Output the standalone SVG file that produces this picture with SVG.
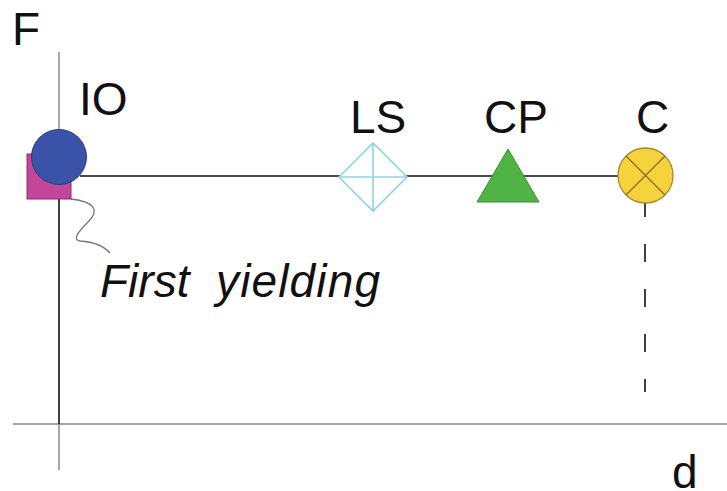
<svg xmlns="http://www.w3.org/2000/svg" width="727" height="491" viewBox="0 0 727 491">
<style>
text{font-family:"Liberation Sans",Arial,sans-serif;fill:#111;font-size:46px}
.ax{stroke:#8a8a8a;stroke-width:1.5;fill:none}
.ln{stroke:#111;stroke-width:1.6;fill:none}
</style>
<rect width="727" height="491" fill="#fff"/>
<g id="connectors">
<line class="ax" x1="13" y1="424" x2="727" y2="424"/>
<line class="ax" x1="59" y1="52" x2="59" y2="135"/>
<line class="ln" x1="59" y1="199" x2="59" y2="424" stroke-width="2.2"/>
<line class="ax" x1="59" y1="424" x2="59" y2="470"/>
<line class="ln" x1="80" y1="176" x2="620" y2="176"/>
<line class="ln" x1="645" y1="199" x2="645" y2="392" stroke-dasharray="18 27"/>
<path d="M71,199 C95,202 100,210 88,222 C78,232 72,240 80,241 C95,242 104,246 110,253" stroke="#777" stroke-width="1.3" fill="none"/>
</g>
<text x="672" y="488">d</text>
<text x="12" y="45">F</text>
<g id="IO">
<rect x="27" y="154" width="44" height="45" fill="#C2479B" stroke="#8a2f70" stroke-width="1"/>
<circle cx="59" cy="157" r="27.5" fill="#3A53A8" stroke="#2a3d80" stroke-width="1"/>
<text x="79" y="115">IO</text>
</g>
<g id="LS">
<path d="M339,177 L373,143 L407,177 L373,211 Z M339,177 H407 M373,143 V211" fill="#fff" stroke="#8FD3E6" stroke-width="1.6"/>
<text x="350" y="133">LS</text>
</g>
<g id="CP">
<polygon points="508,149 539,202 477,202" fill="#4FB345" stroke="#3c8f35" stroke-width="1"/>
<text x="484" y="133">CP</text>
</g>
<g id="C">
<circle cx="645.5" cy="175.5" r="27.5" fill="#F6D33D" stroke="#a88a2a" stroke-width="1.3"/>
<path d="M626,156 L665,195 M665,156 L626,195" stroke="#8a6f25" stroke-width="1.3"/>
<text x="636" y="133">C</text>
</g>
<g id="first-yielding">
<text y="297" font-style="italic" font-size="48"><tspan x="100">First</tspan><tspan x="216" textLength="164" lengthAdjust="spacing">yielding</tspan></text>
</g>
</svg>
